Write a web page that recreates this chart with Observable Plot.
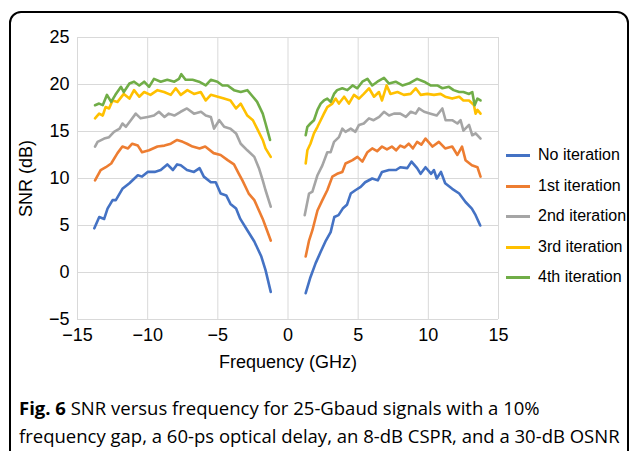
<!DOCTYPE html>
<html><head><meta charset="utf-8">
<script src="https://cdn.jsdelivr.net/npm/d3@7"></script>
<script src="https://cdn.jsdelivr.net/npm/@observablehq/plot@0.6"></script>
<style>
html,body{margin:0;padding:0;background:#fff;width:629px;height:451px;overflow:hidden;position:relative;}
#frame{position:absolute;left:9px;top:11px;width:616px;height:447px;border:2px solid #000;border-radius:12px;box-sizing:content-box;}
#chart{position:absolute;left:0;top:0;}
#legend{position:absolute;left:0;top:0;font-family:"Liberation Sans",Arial,sans-serif;font-size:16px;color:#000;}
.item{position:absolute;left:506px;height:20px;white-space:nowrap;}
.sw{position:absolute;left:0;top:9px;width:24px;height:3px;}
.lbl{position:absolute;left:32px;top:0;line-height:20px;}
#caption{position:absolute;left:19px;top:394px;font-family:"Open Sans",sans-serif;font-size:18.5px;line-height:28px;color:#000;white-space:nowrap;}
#caption b{font-weight:700;}
</style></head>
<body>
<div id="frame"></div>
<div id="chart"></div>
<div id="legend"></div>
<div id="caption"><b>Fig. 6</b> SNR versus frequency for 25-Gbaud signals with a 10%<br>frequency gap, a 60-ps optical delay, an 8-dB CSPR, and a 30-dB OSNR</div>
<script>
const seriesNames = ["No iteration", "1st iteration", "2nd iteration", "3rd iteration", "4th iteration"];
const seriesColors = ["#4472C4", "#ED7D31", "#A5A5A5", "#FFC000", "#70AD47"];
const xTicks = [-15, -10, -5, 0, 5, 10, 15];
const yTicks = [-5, 0, 5, 10, 15, 20, 25];

// No iteration
const noIterLeftFreq = [-13.8,-13.45,-13.1,-12.86,-12.5,-12.27,-11.8,-11.3,-10.7,-10.4,-10.0,-9.5,-9.07,-8.6,-8.2,-7.9,-7.64,-7.2,-6.7,-6.3,-6.0,-5.5,-5.15,-4.8,-4.4,-4.1,-3.7,-3.4,-2.9,-2.4,-1.9,-1.6,-1.23];
const noIterLeftSNR  = [4.7,5.9,5.7,6.8,7.7,7.7,8.9,9.5,10.35,10.2,10.7,10.7,10.9,11.5,10.9,11.5,11.4,10.9,10.7,11.1,10.2,9.6,9.6,8.4,8.2,7.3,6.8,5.7,4.5,3.3,1.7,0.25,-2.06];
const noIterRightFreq = [1.26,1.6,1.97,2.33,2.7,3.04,3.3,3.6,3.9,4.2,4.47,4.8,5.18,5.5,6.0,6.4,6.7,7.2,7.7,8.0,8.5,8.8,9.2,9.45,9.8,10.2,10.4,10.6,10.9,11.2,11.7,12.2,12.65,13.1,13.37,13.7];
const noIterRightSNR  = [-2.2,-0.5,1.0,2.2,3.4,4.3,5.9,6.1,6.8,7.2,8.4,8.75,9.1,9.6,10.0,9.8,10.7,10.9,10.9,11.2,11.1,11.8,11.1,10.5,11.2,10.5,10.9,10.0,10.7,9.5,8.9,8.4,7.5,6.8,6.1,5.0];

// 1st iteration
const iter1LeftFreq = [-13.75,-13.35,-12.98,-12.6,-12.15,-11.8,-11.4,-11.1,-10.7,-10.4,-9.9,-9.3,-8.8,-8.35,-7.9,-7.5,-7.2,-6.8,-6.3,-5.9,-5.3,-4.8,-4.3,-3.85,-3.5,-3.25,-2.8,-2.4,-2.07,-1.8,-1.5,-1.23];
const iter1LeftSNR  = [9.8,10.9,11.2,11.6,12.7,13.4,13.2,13.7,13.5,12.8,13.0,13.4,13.5,13.7,14.1,13.9,13.7,13.4,13.2,13.4,12.7,12.5,11.95,11.5,10.5,9.8,8.4,7.7,6.6,5.7,4.5,3.4];
const iter1RightFreq = [1.26,1.5,1.74,2.1,2.45,2.8,3.16,3.5,3.87,4.1,4.6,4.95,5.3,5.66,6.0,6.35,6.7,7.05,7.4,7.7,8.0,8.3,8.6,8.9,9.2,9.5,9.8,10.3,10.75,11.2,11.7,12.07,12.4,12.65,13.1,13.5,13.72];
const iter1RightSNR  = [1.7,3.4,4.5,6.6,7.7,8.75,10.2,10.5,10.7,11.6,11.95,12.3,11.8,12.8,13.2,12.9,13.4,13.1,13.4,13.0,13.5,13.3,13.7,13.2,13.9,13.6,14.25,13.4,13.9,13.2,13.4,12.5,13.4,11.95,11.4,11.2,10.2];

// 2nd iteration
const iter2LeftFreq = [-13.75,-13.57,-13.1,-12.75,-12.4,-12.0,-11.8,-11.55,-11.2,-10.85,-10.5,-10.0,-9.55,-9.2,-8.8,-8.5,-8.1,-7.65,-7.2,-6.7,-6.2,-5.86,-5.5,-5.27,-4.9,-4.55,-4.1,-3.7,-3.37,-2.9,-2.4,-2.07,-1.8,-1.6,-1.23];
const iter2LeftSNR  = [13.4,13.9,14.25,14.4,14.96,15.3,15.85,15.5,16.2,16.9,16.4,16.55,16.7,17.1,16.55,16.9,16.7,17.1,17.45,16.9,17.1,16.7,16.55,15.3,16.2,15.5,15.3,14.8,13.7,13.0,12.3,11.1,9.8,8.75,7.0];
const iter2RightFreq = [1.19,1.5,1.74,2.1,2.45,2.8,3.04,3.28,3.63,3.87,4.1,4.47,4.8,5.06,5.4,5.77,6.1,6.5,6.84,7.2,7.55,8.0,8.4,8.75,9.1,9.33,9.7,10.16,10.6,11.0,11.23,11.7,12.07,12.3,12.5,12.9,13.13,13.37,13.72];
const iter2RightSNR  = [6.1,8.4,8.6,10.35,11.4,12.8,12.8,13.9,14.4,15.3,14.96,15.3,14.96,15.7,15.85,16.4,16.2,16.55,17.1,16.7,16.9,16.9,16.55,17.1,16.9,17.45,17.1,16.9,16.7,17.45,16.2,16.2,15.85,16.2,15.1,15.7,14.6,14.8,14.25];

// 3rd iteration
const iter3LeftFreq = [-13.75,-13.46,-13.2,-13.0,-12.75,-12.5,-12.15,-11.7,-11.3,-10.97,-10.6,-10.25,-9.8,-9.3,-8.83,-8.35,-8.0,-7.64,-7.17,-6.7,-6.22,-5.86,-5.5,-5.0,-4.56,-4.1,-3.7,-3.37,-2.9,-2.5,-2.2,-1.8,-1.6,-1.23];
const iter3LeftSNR  = [16.4,16.9,16.7,17.6,17.45,18.3,18.15,19.0,18.5,19.4,18.7,19.2,18.9,19.4,19.2,18.9,19.6,18.9,19.4,19.0,19.2,18.3,18.9,18.7,18.5,18.3,17.45,17.97,16.7,16.2,15.3,14.1,13.2,12.3];
const iter3RightFreq = [1.26,1.38,1.6,1.85,2.1,2.33,2.56,2.8,3.16,3.4,3.63,4.0,4.34,4.7,5.06,5.4,5.77,6.13,6.48,6.7,7.03,7.3,7.8,8.26,8.74,9.1,9.45,9.93,10.4,10.87,11.2,11.7,12.2,12.5,12.9,13.25,13.37,13.5,13.72];
const iter3RightSNR  = [11.6,13.0,13.7,14.8,15.5,16.2,16.9,17.6,17.97,18.5,17.97,18.7,17.97,18.9,18.5,19.0,19.6,18.7,19.2,18.3,19.9,19.0,19.2,18.9,19.0,19.6,18.9,19.0,18.9,19.0,18.7,18.5,18.7,18.3,18.3,17.8,16.9,17.3,16.9];

// 4th iteration
const iter4LeftFreq = [-13.75,-13.46,-13.2,-12.9,-12.6,-12.3,-11.9,-11.7,-11.3,-10.97,-10.6,-10.25,-9.9,-9.55,-9.07,-8.6,-8.1,-7.77,-7.6,-7.3,-6.8,-6.34,-5.86,-5.5,-5.03,-4.67,-4.3,-3.85,-3.37,-2.9,-2.5,-2.2,-1.8,-1.6,-1.28];
const iter4LeftSNR  = [17.8,17.97,17.8,18.9,18.15,18.9,19.75,19.2,20.1,20.3,19.9,20.3,19.75,20.6,20.3,20.5,20.3,20.6,21.1,20.5,20.5,20.3,19.9,20.5,20.3,19.9,19.9,19.4,19.2,19.4,18.7,18.15,16.9,15.85,14.1];
const iter4RightFreq = [1.26,1.38,1.6,1.85,2.1,2.33,2.56,2.8,3.04,3.28,3.5,3.87,4.23,4.6,4.94,5.3,5.66,6.0,6.37,6.84,7.2,7.67,8.15,8.6,9.2,9.7,10.16,10.64,11.0,11.47,11.8,12.2,12.5,12.9,13.13,13.3,13.5,13.72];
const iter4RightSNR  = [14.6,15.5,15.85,16.2,17.3,17.97,18.3,18.5,18.15,19.0,19.4,19.6,19.4,19.9,19.6,20.3,20.6,19.9,20.3,20.7,20.1,20.3,19.9,20.1,20.6,20.3,19.9,19.9,19.6,19.75,19.4,19.2,19.2,19.0,19.2,17.8,18.5,18.3];

const halves = [
  [0, noIterLeftFreq, noIterLeftSNR], [0, noIterRightFreq, noIterRightSNR],
  [1, iter1LeftFreq, iter1LeftSNR], [1, iter1RightFreq, iter1RightSNR],
  [2, iter2LeftFreq, iter2LeftSNR], [2, iter2RightFreq, iter2RightSNR],
  [3, iter3LeftFreq, iter3LeftSNR], [3, iter3RightFreq, iter3RightSNR],
  [4, iter4LeftFreq, iter4LeftSNR], [4, iter4RightFreq, iter4RightSNR]
];
const rows = [];
halves.forEach(([s, fs, vs], h) => {
  fs.forEach((f, i) => rows.push({series: seriesNames[s], key: "k" + h, f, v: vs[i]}));
});

const chart = Plot.plot({
  width: 629, height: 380,
  marginLeft: 77, marginRight: 131, marginTop: 37, marginBottom: 61,
  style: {fontFamily: "'Liberation Sans', Arial, sans-serif", fontSize: "18px", color: "#000", background: "transparent", overflow: "visible"},
  x: {domain: [-15, 15]},
  y: {domain: [-5, 25]},
  color: {domain: seriesNames, range: seriesColors},
  marks: [
    Plot.gridX(xTicks, {stroke: "#d9d9d9", strokeOpacity: 1, strokeWidth: 1}),
    Plot.gridY(yTicks, {stroke: "#d9d9d9", strokeOpacity: 1, strokeWidth: 1}),
    Plot.axisX(xTicks, {tickSize: 0, tickPadding: 9, label: "Frequency (GHz)", labelAnchor: "center", labelArrow: "none", labelOffset: 48, fontSize: 18}),
    Plot.axisY(yTicks, {tickSize: 0, tickPadding: 8, label: "SNR (dB)", labelAnchor: "center", labelArrow: "none", labelOffset: 58, fontSize: 18}),
    Plot.line(rows, {x: "f", y: "v", z: "key", stroke: "series", strokeWidth: 2.6, strokeLinejoin: "round", strokeLinecap: "round", curve: "linear"})
  ]
});
document.getElementById("chart").appendChild(chart);

const legendTops = [145, 175.5, 206, 236.5, 267];
const legend = document.getElementById("legend");
seriesNames.forEach((name, i) => {
  const it = document.createElement("div");
  it.className = "item";
  it.style.top = legendTops[i] + "px";
  it.innerHTML = `<div class="sw" style="background:${seriesColors[i]}"></div><div class="lbl">${name}</div>`;
  legend.appendChild(it);
});
</script>
</body></html>
